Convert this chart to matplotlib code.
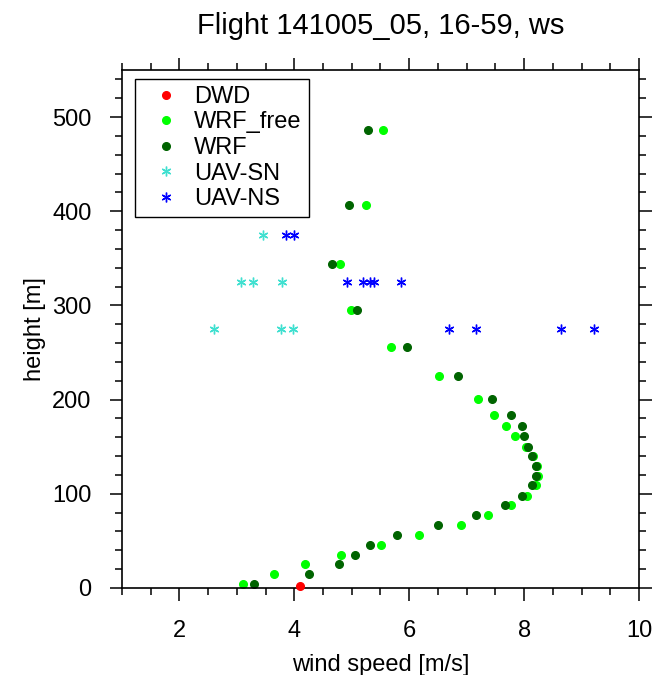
import numpy as np
import matplotlib.pyplot as plt
from matplotlib.ticker import MultipleLocator

plt.rcParams['font.family'] = ['Liberation Sans', 'DejaVu Sans']

# model levels [m]
wrf_h = [4, 14.5, 25, 35, 46, 56, 67, 77, 88, 98, 109, 119, 130, 140, 150,
         161, 172, 184, 201, 225, 256, 295, 344, 407, 486]
wrf_free_ws = [3.10, 3.64, 4.18, 4.82, 5.51, 6.17, 6.91, 7.38, 7.78, 8.05, 8.20, 8.25, 8.23, 8.16, 8.03,
               7.84, 7.68, 7.48, 7.19, 6.52, 5.69, 4.98, 4.80, 5.24, 5.55]
wrf_ws = [3.29, 4.26, 4.78, 5.05, 5.32, 5.78, 6.50, 7.16, 7.66, 7.97, 8.13, 8.20, 8.20, 8.14, 8.07,
          8.00, 7.97, 7.78, 7.45, 6.85, 5.96, 5.09, 4.65, 4.95, 5.29]

dwd_h = [2]
dwd_ws = [4.10]

sn_h = [375, 325, 325, 325, 275, 275, 275]
sn_ws = [3.46, 3.07, 3.28, 3.78, 2.60, 3.77, 3.97]

ns_h = [375, 375, 325, 325, 325, 325, 325, 275, 275, 275, 275]
ns_ws = [3.86, 4.00, 4.91, 5.20, 5.31, 5.39, 5.86, 6.69, 7.17, 8.65, 9.22]

fig = plt.figure(figsize=(6.54, 6.75), dpi=100)
ax = fig.add_axes([0.1865, 0.129, 0.7905, 0.7673])

ax.plot(dwd_ws, dwd_h, 'o', color='red', ms=5.5, label='DWD', clip_on=False, zorder=5)
ax.plot(wrf_free_ws, wrf_h, 'o', color='#00ff00', ms=5.5, label='WRF_free')
ax.plot(wrf_ws, wrf_h, 'o', color='#006400', ms=5.5, label='WRF')
ax.plot(sn_ws, sn_h, ls='none', marker=(6, 2, 0), color='#40e0d0', ms=7, mew=1, label='UAV-SN')
ax.plot(ns_ws, ns_h, ls='none', marker=(6, 2, 0), color='blue', ms=7, mew=1, label='UAV-NS')

ax.set_xlim(1, 10)
ax.set_ylim(0, 550)
ax.xaxis.set_major_locator(MultipleLocator(2))
ax.xaxis.set_minor_locator(MultipleLocator(0.5))
ax.yaxis.set_major_locator(MultipleLocator(100))
ax.yaxis.set_minor_locator(MultipleLocator(20))
ax.tick_params(which='both', direction='out', top=True, right=True, width=1.1, labelsize=17)
ax.tick_params(which='major', length=9)
ax.tick_params(which='minor', length=5)
ax.tick_params(axis='x', pad=14)
ax.tick_params(axis='y', pad=13)
for s in ax.spines.values():
    s.set_linewidth(1.2)

ax.set_xlabel('wind speed [m/s]', fontsize=17, labelpad=9)
ax.set_ylabel('height [m]', fontsize=17, labelpad=4)
ax.set_title('Flight 141005_05, 16-59, ws', fontsize=21, pad=26)

leg = ax.legend(loc='upper left', bbox_to_anchor=(0.025, 0.983), borderaxespad=0, fontsize=17,
                fancybox=False, edgecolor='black', framealpha=1, handlelength=2.0,
                handletextpad=0.2, labelspacing=0.15, borderpad=0.3)
leg.get_frame().set_linewidth(1.0)

fig.savefig('out.png', dpi=100)
